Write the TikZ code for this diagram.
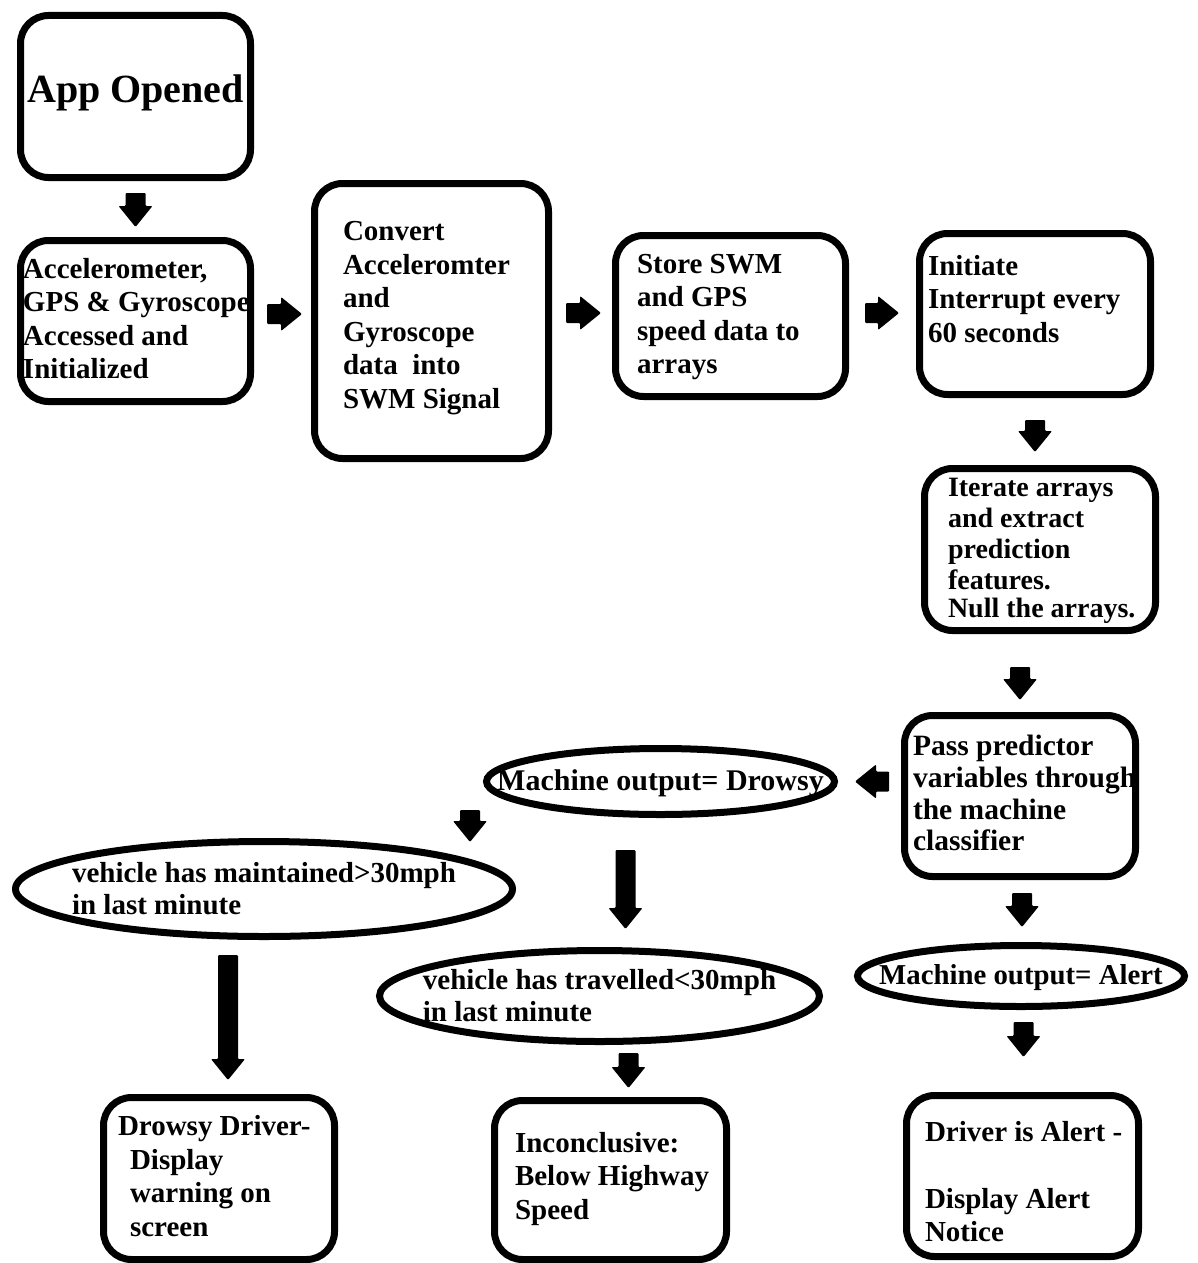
\documentclass[tikz,border=0pt]{standalone}
\usepackage{fontspec}
\setmainfont{Liberation Serif}
\usetikzlibrary{calc,shapes.geometric}
% horizontal block arrow: x of start from #1, tip #2 (y taken from tip)
\newcommand\harrow[2]{\fill[barrow] let \p1=(#1),\p2=(#2),\n1={(\x2-\x1)/abs(\x2-\x1)} in
  (\x1,\y2+10pt) -- ({\x2-(\n1)*21pt},\y2+10pt) -- ({\x2-(\n1)*21pt},\y2+17pt) -- (\x2,\y2)
  -- ({\x2-(\n1)*21pt},\y2-17pt) -- ({\x2-(\n1)*21pt},\y2-10pt) -- (\x1,\y2-10pt) -- cycle;}
% vertical block arrow: y of start from #1, tip #2 (x taken from tip)
\newcommand\varrow[2]{\fill[barrow] let \p1=(#1),\p2=(#2),\n1={(\y2-\y1)/abs(\y2-\y1)} in
  (\x2-10pt,\y1) -- (\x2-10pt,{\y2-(\n1)*21pt}) -- (\x2-17pt,{\y2-(\n1)*21pt}) -- (\x2,\y2)
  -- (\x2+17pt,{\y2-(\n1)*21pt}) -- (\x2+10pt,{\y2-(\n1)*21pt}) -- (\x2+10pt,\y1) -- cycle;}
% left-aligned block of lines in a box of width #1, vertically centred, raised by #2
\newcommand\lefttab[3]{\makebox[#1][l]{\raisebox{\dimexpr #2-7.25pt\relax}[0pt][0pt]{\begin{tabular}{@{}l@{}}#3\end{tabular}}}}
\begin{document}
\begin{tikzpicture}[x=1pt,y=-1pt,
  box/.style={draw,line width=7pt,rounded corners=28pt,minimum width=231pt,minimum height=161pt,
    inner sep=0pt,font=\bfseries\fontsize{29}{33.5}\selectfont},
  oval/.style={draw,ellipse,line width=7pt,inner sep=0pt,font=\bfseries\fontsize{29}{32}\selectfont},
  barrow/.style={fill=black,rounded corners=1pt}]
\fill[white] (0,0) rectangle (1198,1263);
\useasboundingbox (0,0) rectangle (1198,1263);

\node[box,minimum width=230pt,minimum height=162pt,font=\bfseries\fontsize{40}{44}\selectfont] (b1) at (135.5,96.5) {\makebox[0pt]{\raisebox{-5.5pt}[0pt][0pt]{App Opened}}};
\node[box,minimum width=230pt] (b2) at (135.5,321) {\lefttab{225pt}{0pt}{Accelerometer,\\GPS \& Gyroscope\\Accessed and\\Initialized}};
\node[box,minimum width=234pt,minimum height=275pt] (b3) at (431.5,321) {\lefttab{177pt}{4pt}{Convert\\Acceleromter\\and\\Gyroscope\\data\ \ into\\SWM Signal}};
\node[box,minimum width=230pt] (b4) at (730.5,316) {\lefttab{187pt}{0pt}{Store SWM\\and GPS\\speed data to\\arrays}};
\node[box] (b5) at (1035,314) {\lefttab{214pt}{-4pt}{Initiate\\Interrupt every\\60 seconds\\\mbox{}}};
\node[box,minimum height=162pt,font=\bfseries\fontsize{28}{31}\selectfont] (b6) at (1040,549.5) {\lefttab{184pt}{0pt}{Iterate arrays\\and extract\\prediction\\features.\\[-3pt]Null the arrays.}};
\node[box,font=\bfseries\fontsize{29.5}{31.7}\selectfont] (b7) at (1020,796) {\lefttab{214pt}{0pt}{Pass predictor\\variables through\\the machine\\classifier}};

\node[oval,minimum width=348pt,minimum height=66pt,font=\bfseries\fontsize{30}{32}\selectfont] (e1) at (660.5,781.5)
  {\makebox[0pt]{\raisebox{-8.5pt}[0pt][0pt]{Machine output= Drowsy}}};
\node[oval,minimum width=497pt,minimum height=95pt] (e2) at (264,889)
  {\makebox[0pt]{\raisebox{7pt}[0pt][0pt]{\begin{tabular}[t]{@{}l@{}}vehicle has maintained>30mph\\in last minute\end{tabular}}}};
\node[oval,minimum width=440pt,minimum height=91pt] (e3) at (599.5,996)
  {\makebox[0pt]{\raisebox{7pt}[0pt][0pt]{\begin{tabular}[t]{@{}l@{}}vehicle has travelled<30mph\\in last minute\end{tabular}}}};
\node[oval,minimum width=327pt,minimum height=61pt,font=\bfseries\fontsize{28.8}{32}\selectfont] (e4) at (1021,976)
  {\makebox[0pt]{\raisebox{-8.5pt}[0pt][0pt]{Machine output= Alert}}};

\node[box,minimum height=162pt] (b8) at (219,1178.5) {\lefttab{202pt}{0pt}{Drowsy Driver-\\\hspace*{12pt}Display\\\hspace*{12pt}warning on\\\hspace*{12pt}screen}};
\node[box,minimum width=232pt,minimum height=159pt] (b9) at (610.5,1180) {\lefttab{191pt}{2pt}{Inconclusive:\\Below Highway\\Speed}};
\node[box,minimum width=232pt] (b10) at (1022.5,1176) {\lefttab{195pt}{-8pt}{Driver is Alert -\\\mbox{}\\Display Alert\\Notice}};

\varrow{$(b1.south)+(0,12)$}{$(b2.north)+(0,-10)$}
\harrow{$(b2.east)+(13,0)$}{$(b3.west)+(-9,-7)$}
\harrow{$(b3.east)+(14,0)$}{$(b4.west)+(-11,-3)$}
\harrow{$(b4.east)+(16,0)$}{$(b5.west)+(-17,-1)$}
\varrow{$(b5.south)+(0,22)$}{$(b6.north)+(-5,-13)$}
\varrow{$(b6.south)+(0,33)$}{$(b7.north)+(0,-12)$}
\harrow{$(b7.west)+(-12,0)$}{$(e1.east)+(17,0)$}
\varrow{$(e1.south)+(0,-8)$}{$(e2.north)+(206,4)$}
\varrow{$(e1.south)+(0,32)$}{$(e3.north)+(26,-18)$}
\varrow{$(b7.south)+(0,13)$}{$(e4.north)+(1,-15)$}
\varrow{$(e4.south)+(0,12)$}{$(b10.north)+(1,-35)$}
\varrow{$(e2.south)+(0,15)$}{$(b8.north)+(9,-14)$}
\varrow{$(e3.south)+(0,8)$}{$(b9.north)+(18,-9)$}
\end{tikzpicture}
\end{document}
